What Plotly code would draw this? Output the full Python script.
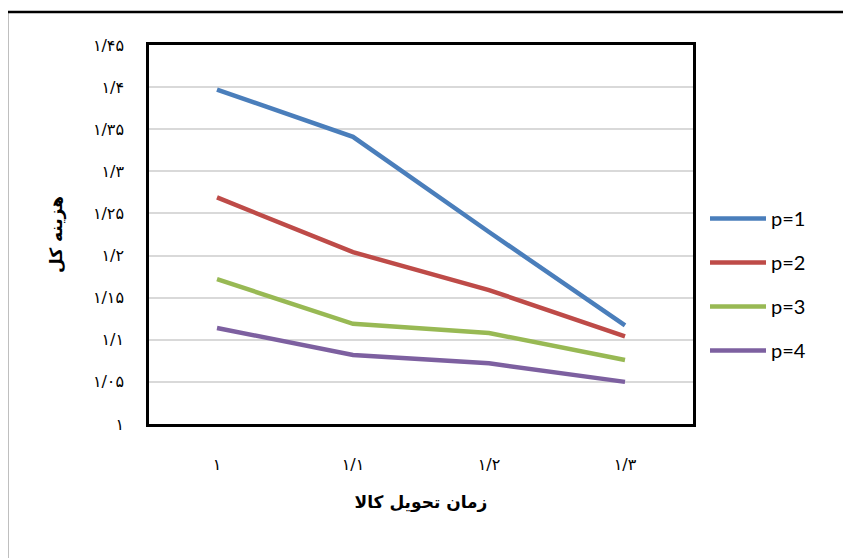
import plotly.graph_objects as go

categories = ["۱", "۱/۱", "۱/۲", "۱/۳"]
p1 = [1.397, 1.341, 1.228, 1.117]
p2 = [1.269, 1.204, 1.159, 1.104]
p3 = [1.172, 1.119, 1.108, 1.076]
p4 = [1.114, 1.082, 1.072, 1.050]
series_names = ["p=1", "p=2", "p=3", "p=4"]
y_tickvals = [1.0, 1.05, 1.1, 1.15, 1.2, 1.25, 1.3, 1.35, 1.4, 1.45]
y_ticktext = ["۱", "۱/۰۵", "۱/۱", "۱/۱۵", "۱/۲", "۱/۲۵", "۱/۳", "۱/۳۵", "۱/۴", "۱/۴۵"]
x_title = "زمان تحویل کالا"
y_title = "هزینه کل"

colors = ["#4A7EBB", "#BE4B48", "#98B954", "#7D60A0"]

fig = go.Figure()
for i, (name, vals) in enumerate(zip(series_names, [p1, p2, p3, p4])):
    fig.add_trace(go.Scatter(
        x=categories, y=vals, mode="lines", name=name,
        legendgroup=name,
        line=dict(color=colors[i], width=4.5),
    ))

OFF = 8  # page body margin
W, H = 851, 558
L, R, T, B = 149 - OFF, 693 - OFF, 45 - OFF, 424 - OFF  # plot box edges in figure px
PW, PH = R - L, B - T

def px_x(x):
    return (x - OFF - L) / PW

def px_y(y):
    return 1 - (y - OFF - T) / PH

fig.update_layout(
    width=W, height=H,
    margin=dict(l=L, r=W - R, t=T, b=H - B),
    paper_bgcolor="white", plot_bgcolor="white",
    showlegend=True,
    legend=dict(
        x=px_x(705), y=px_y(199),
        xanchor="left", yanchor="top",
        font=dict(family="Lato, Open Sans, sans-serif", size=20, color="#000"),
        tracegroupgap=15, itemwidth=56,
        bgcolor="rgba(0,0,0,0)",
    ),
    xaxis=dict(
        type="category", range=[-0.5, 3.5],
        showgrid=False, zeroline=False,
        showline=True, linecolor="black", linewidth=2.5, mirror=True,
        ticks="", ticklabelstandoff=24,
        tickfont=dict(family="DejaVu Sans", size=16, color="#000"),
        title=dict(text=x_title, font=dict(family="DejaVu Sans", size=17, color="#000", weight="bold"), standoff=24),
    ),
    yaxis=dict(
        range=[1.0, 1.45],
        tickvals=y_tickvals, ticktext=y_ticktext,
        showgrid=True, gridcolor="#D9D9D9", gridwidth=1.5,
        zeroline=False,
        showline=True, linecolor="black", linewidth=2.5, mirror=True,
        ticks="", ticklabelstandoff=19,
        tickfont=dict(family="DejaVu Sans", size=16, color="#000"),
        title=dict(text=y_title, font=dict(family="DejaVu Sans", size=17, color="#000", weight="bold"), standoff=26),
    ),
    shapes=[
        dict(type="line", xref="paper", yref="paper",
             x0=px_x(7), x1=px_x(W + 20),
             y0=px_y(12), y1=px_y(12),
             line=dict(color="black", width=2.5)),
        dict(type="line", xref="paper", yref="paper",
             x0=px_x(7), x1=px_x(7),
             y0=px_y(12), y1=px_y(H + 20),
             line=dict(color="black", width=2.5)),
    ],
)

fig.write_html("out.html")
